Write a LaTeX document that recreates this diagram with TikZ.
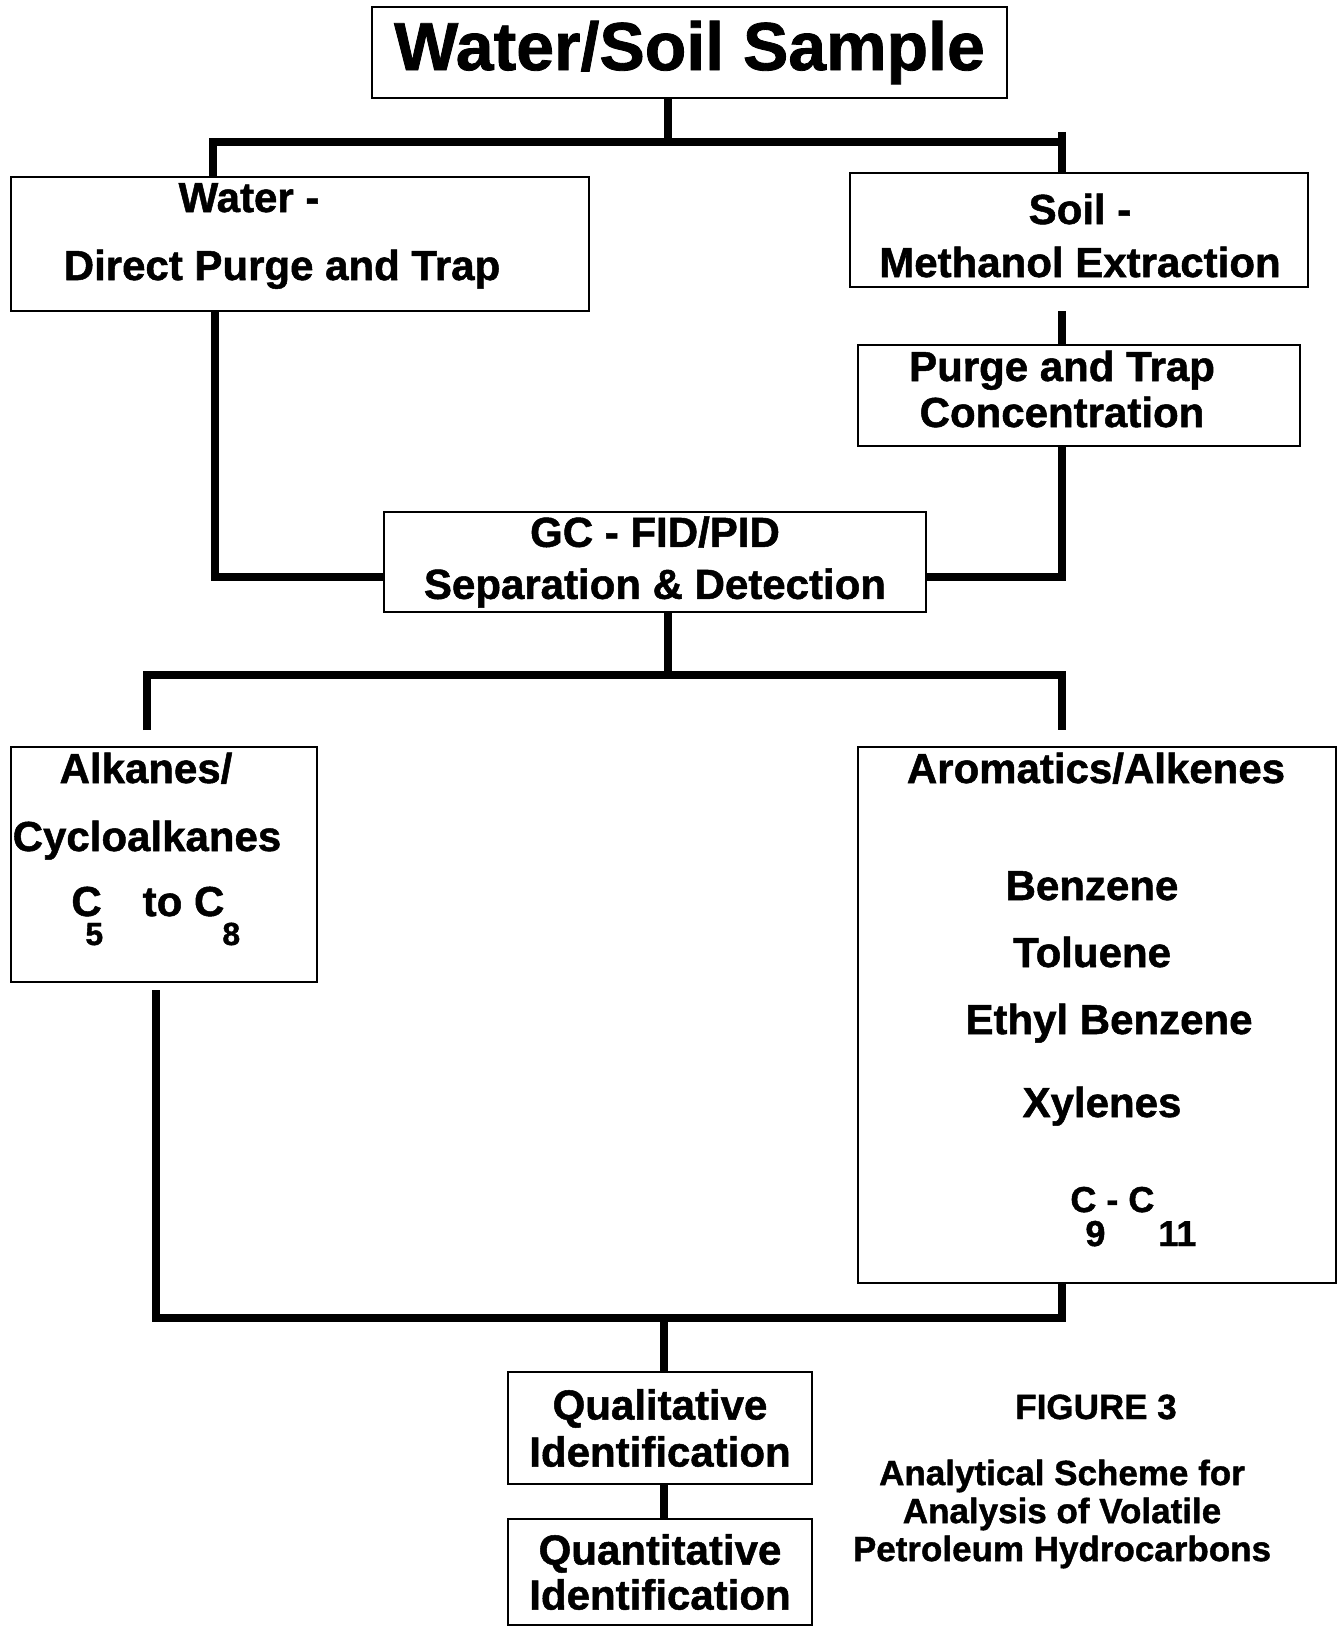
\documentclass[tikz,border=0pt]{standalone}
\usepackage{fontspec}
\setmainfont{Liberation Sans}[BoldFeatures={FakeBold=1.2}]
\tikzset{>=latex}
\newcommand{\bodyfont}{\fontsize{21}{26}\selectfont\bfseries}
\newcommand{\subfont}{\fontsize{16}{16}\selectfont\bfseries}
\tikzset{
    box/.style={draw, line width=1pt, inner sep=0pt, align=center, font=\bodyfont},
    txt/.style={inner sep=0pt, font=\bodyfont, anchor=base},
    link/.style={line width=3.8pt},
}

\begin{document}
\begin{tikzpicture}[x=0.5pt,y=-0.5pt]
    \fill[white] (0,0) rectangle (1340,1627);
    \useasboundingbox (0,0) rectangle (1340,1627);

    %boxes of the scheme
    \node[box, minimum width=317.5pt, minimum height=45.5pt,
          font=\fontsize{34}{40}\selectfont\bfseries] (sample) at (689.5,52.5) {Water/Soil Sample};
    \node[box, minimum width=289pt, minimum height=67pt] (water) at (300,244) {};
    \node[txt] (waterA) at (249,212) {Water -};
    \node[txt] (waterB) at (282,280) {Direct Purge and Trap};
    \node[box, minimum width=229pt, minimum height=57pt] (soil) at (1079,230) {};
    \node[txt] (soilA) at (1080,224) {Soil -};
    \node[txt] (soilB) at (1080,277) {Methanol Extraction};
    \node[box, minimum width=221pt, minimum height=50.5pt] (purge) at (1079,395.5) {};
    \node[txt] (purgeA) at (1062,381) {Purge and Trap};
    \node[txt] (purgeB) at (1062,427) {Concentration};
    \node[box, minimum width=271pt, minimum height=50pt] (gc) at (655,562) {GC - FID/PID\\Separation \& Detection};

    \node[box, minimum width=153pt, minimum height=117.5pt] (alk) at (164,864.5) {};
    \node[txt] (alkA) at (146,783) {Alkanes/};
    \node[txt] (alkB) at (147,851) {Cycloalkanes};
    \node[txt, anchor=base west] (alkC) at (71,916)
        {\rlap{\hspace{7pt}\raisebox{-14.5pt}{\subfont 5}}C\hspace{20.5pt}to C\rlap{\hspace{-1pt}\raisebox{-14.5pt}{\subfont 8}}};

    \node[box, minimum width=239pt, minimum height=268pt] (arom) at (1097,1015) {};
    \node[txt] (aromA) at (1096,783) {Aromatics/Alkenes};
    \node[txt] (aromB) at (1092,900) {Benzene};
    \node[txt] (aromC) at (1092,967) {Toluene};
    \node[txt] (aromD) at (1109,1034) {Ethyl Benzene};
    \node[txt] (aromE) at (1102,1117) {Xylenes};
    \node[txt, anchor=base west, font=\fontsize{18}{18}\selectfont\bfseries] (aromF) at (1070,1212)
        {\rlap{\hspace{7.5pt}\raisebox{-17pt}{9}}\rlap{\hspace{44pt}\raisebox{-17pt}{11}}C - C};

    \node[box, minimum width=152pt, minimum height=56pt,
          font=\fontsize{21}{23.5}\selectfont\bfseries] (qual) at (660,1428) {Qualitative\\Identification};
    \node[box, minimum width=152pt, minimum height=53pt,
          font=\fontsize{21}{22.5}\selectfont\bfseries] (quant) at (660,1572) {Quantitative\\Identification};

    \node[txt, font=\fontsize{17.5}{19}\selectfont\bfseries] (fig) at (1096,1419) {FIGURE 3};
    \node[inner sep=0pt, align=center, font=\fontsize{17.5}{19}\selectfont\bfseries] (caption) at (1062,1514)
        {Analytical Scheme for\\Analysis of Volatile\\Petroleum Hydrocarbons};

    %connectors
    \coordinate (j1) at (668,142);
    \coordinate (b1l) at (213,142);
    \coordinate (b1r) at (1062,142);
    \coordinate (t1) at (1062,132);
    \draw[link] (sample.south -| j1) -- (j1);
    \draw[link] (water.north -| b1l) -- (b1l) -- (b1r);
    \draw[link] (t1) -- (soil.north -| t1);

    \coordinate (w2) at (215,577);
    \draw[link] (water.south -| w2) -- (w2) -- (gc.west |- w2);
    \coordinate (s1) at (1062,311);
    \draw[link] (s1) -- (purge.north -| s1);
    \coordinate (g2) at (1062,577);
    \draw[link] (purge.south -| g2) -- (g2) -- (gc.east |- g2);

    \coordinate (j2) at (668,675);
    \coordinate (b2l) at (147,675);
    \coordinate (b2r) at (1062,675);
    \coordinate (a1) at (147,730);
    \coordinate (a2) at (1062,730);
    \draw[link] (gc.south -| j2) -- (j2);
    \draw[link] (a1) -- (b2l) -- (b2r) -- (a2);

    \coordinate (c1) at (156,990);
    \coordinate (c2) at (156,1318);
    \coordinate (c3) at (1062,1318);
    \coordinate (j3) at (664,1318);
    \draw[link] (c1) -- (c2) -- (c3) -- (arom.south -| c3);
    \draw[link] (j3) -- (qual.north -| j3);
    \draw[link] (qual.south -| j3) -- (quant.north -| j3);
\end{tikzpicture}
\end{document}
